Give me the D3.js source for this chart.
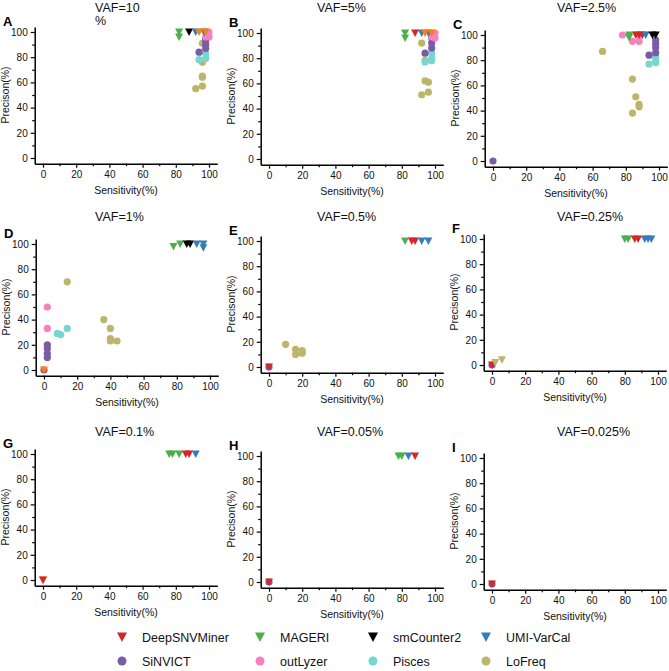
<!DOCTYPE html>
<html><head><meta charset="utf-8">
<script src="https://cdn.jsdelivr.net/npm/d3@7"></script>
<style>
body{margin:0;background:#fff;}
svg{display:block;font-family:"Liberation Sans",Arial,sans-serif;}
</style></head>
<body>
<svg id="c" width="669" height="671"></svg>
<script>
// ---- data ----
const seriesNames = ["DeepSNVMiner","MAGERI","smCounter2","UMI-VarCal","SiNVICT","outLyzer","Pisces","LoFreq"];
const seriesColors = ["#d62728","#4daf4a","#000000","#377eb8","#7b5aa6","#f781bf","#76d7d0","#bdb56b"];
const seriesShapes = ["tri","tri","tri","tri","dot","dot","dot","dot"];
// extra marks present in the panels but not in the legend
const extraNames = ["Orange","LoFreqTri"];
const extraColors = ["#ff7f0e","#bdb56b"];
const extraShapes = ["tri","tri"];

const panelTitles = ["VAF=10\n%","VAF=5%","VAF=2.5%","VAF=1%","VAF=0.5%","VAF=0.25%","VAF=0.1%","VAF=0.05%","VAF=0.025%"];
const panelLetters = ["A","B","C","D","E","F","G","H","I"];
const xTicks = [0,20,40,60,80,100];
const yTicks = [0,20,40,60,80,100];

// [series, sensitivity %, precision %]
const dataA = [
  ["LoFreq",96,91],["LoFreq",96,76],["LoFreq",96,65],["LoFreq",96,64],["LoFreq",96,57],["LoFreq",92,55],
  ["Pisces",94,78],["Pisces",98,79],["Pisces",98,83],
  ["SiNVICT",94,84],["SiNVICT",98,87],["SiNVICT",98,90],["SiNVICT",98,93],["SiNVICT",98,95],
  ["outLyzer",98,96],["outLyzer",100,96],["outLyzer",99,98],["outLyzer",100,100],["outLyzer",98,100],
  ["MAGERI",82,100],["MAGERI",82,96],["smCounter2",88,100],
  ["UMI-VarCal",92,100],["UMI-VarCal",97,100],["Orange",94,100],["Orange",98,100]
];
const dataB = [
  ["LoFreq",92,92],["LoFreq",94,62],["LoFreq",96,61],["LoFreq",96,53],["LoFreq",92,51],["LoFreq",94,78],
  ["Pisces",94,77],["Pisces",98,78],["Pisces",98,80],["Pisces",98,84],
  ["SiNVICT",94,84],["SiNVICT",98,88],["SiNVICT",98,92],["SiNVICT",98,96],
  ["outLyzer",98,97],["outLyzer",100,96],["outLyzer",99,98],["outLyzer",100,100],
  ["MAGERI",82,100],["MAGERI",82,96],["DeepSNVMiner",88,100],
  ["UMI-VarCal",92,100],["UMI-VarCal",96,100],["Orange",94,100],["Orange",98,100]
];
const dataC = [
  ["LoFreq",66,87],["LoFreq",84,65],["LoFreq",86,51],["LoFreq",88,45],["LoFreq",88,43],["LoFreq",84,38],
  ["Pisces",94,77],["Pisces",98,78],["Pisces",98,80],["Pisces",98,83],
  ["SiNVICT",0,0],["SiNVICT",94,84],["SiNVICT",98,86],["SiNVICT",98,90],["SiNVICT",98,93],["SiNVICT",98,96],
  ["outLyzer",78,100],["outLyzer",84,95],["outLyzer",88,95],["outLyzer",88,100],
  ["MAGERI",82,100],["MAGERI",82,98],
  ["DeepSNVMiner",86,100],["DeepSNVMiner",88,100],["DeepSNVMiner",90,100],
  ["UMI-VarCal",92,100],["smCounter2",96,100],["smCounter2",98,100]
];
const dataD = [
  ["LoFreq",14,70],["LoFreq",36,40],["LoFreq",40,33],["LoFreq",40,25],["LoFreq",40,23],["LoFreq",44,23],
  ["Pisces",8,29],["Pisces",10,28],["Pisces",14,33],
  ["outLyzer",2,50],["outLyzer",2,33],
  ["SiNVICT",0,0],["SiNVICT",2,20],["SiNVICT",2,17],["SiNVICT",2,13],["SiNVICT",2,10],
  ["Orange",0,0],
  ["MAGERI",78,98],["MAGERI",82,100],["smCounter2",86,100],["smCounter2",88,100],
  ["UMI-VarCal",92,100],["UMI-VarCal",96,100],["UMI-VarCal",96,97]
];
const dataE = [
  ["LoFreq",10,18],["LoFreq",16,14],["LoFreq",16,10],["LoFreq",20,13],["LoFreq",20,11],
  ["SiNVICT",0,0],["DeepSNVMiner",0,0],
  ["MAGERI",82,100],["DeepSNVMiner",86,100],["DeepSNVMiner",88,100],
  ["UMI-VarCal",92,100],["UMI-VarCal",96,100]
];
const dataF = [
  ["SiNVICT",0,0],["DeepSNVMiner",0,0],["LoFreqTri",2,2],["LoFreqTri",6,4],
  ["MAGERI",80,100],["MAGERI",82,100],["DeepSNVMiner",86,100],["DeepSNVMiner",88,100],
  ["UMI-VarCal",92,100],["UMI-VarCal",94,100],["UMI-VarCal",96,100]
];
const dataG = [
  ["Orange",0,0],["DeepSNVMiner",0,0],
  ["MAGERI",76,100],["MAGERI",78,100],["MAGERI",82,100],
  ["DeepSNVMiner",86,100],["DeepSNVMiner",88,100],["UMI-VarCal",92,100]
];
const dataH = [
  ["SiNVICT",0,0],["DeepSNVMiner",0,0],
  ["MAGERI",78,100],["MAGERI",80,100],["UMI-VarCal",84,100],["DeepSNVMiner",88,100]
];
const dataI = [
  ["SiNVICT",0,0],["DeepSNVMiner",0,0]
];
const panelData = [dataA,dataB,dataC,dataD,dataE,dataF,dataG,dataH,dataI];

// ---- layout ----
const layout = [ // [x of 0, y of 100]
  [43,32],[269,33],[493,35],
  [44,244],[269,241],[492,239],
  [43,454],[269,456],[492,458]
];
const titleX = [95,317,557];
const titleY = [12,221,436];
const KX = 1.66, KY = 1.26;

const allNames = seriesNames.concat(extraNames);
const allColors = seriesColors.concat(extraColors);
const allShapes = seriesShapes.concat(extraShapes);
const color = d3.scaleOrdinal().domain(allNames).range(allColors);
const shape = d3.scaleOrdinal().domain(allNames).range(allShapes);

const svg = d3.select("#c");
const triPath = (s)=>`M${-s/2},${-s*0.45}L${s/2},${-s*0.45}L0,${s*0.5}Z`;

panelData.forEach((data,i)=>{
  const [x0,y100] = layout[i];
  const y0 = y100 + 100*KY;
  const x = d3.scaleLinear().domain([-5,105]).range([x0-5*KX, x0+105*KX]);
  const y = d3.scaleLinear().domain([-4.5,104]).range([y0+4.5*KY, y100-4*KY]);
  const g = svg.append("g");
  const col = i%3, row = Math.floor(i/3);

  // axes
  g.append("g").attr("transform",`translate(0,${y(-4.5)})`)
    .call(d3.axisBottom(x).tickValues(xTicks).tickSize(4).tickSizeOuter(0).tickPadding(3));
  g.append("g").attr("transform",`translate(0,${y(-4.5)})`)
    .call(d3.axisBottom(x).tickValues([10,30,50,70,90]).tickSize(2.5).tickSizeOuter(0).tickFormat(""))
    .select(".domain").remove();
  g.append("g").attr("transform",`translate(${x(-5)},0)`)
    .call(d3.axisLeft(y).tickValues(yTicks).tickSize(4).tickSizeOuter(0).tickPadding(3));
  g.append("g").attr("transform",`translate(${x(-5)},0)`)
    .call(d3.axisLeft(y).tickValues([10,30,50,70,90]).tickSize(2.5).tickSizeOuter(0).tickFormat(""))
    .select(".domain").remove();
  g.selectAll(".domain").attr("stroke","#000").attr("stroke-width",1.5);
  g.selectAll(".tick line").attr("stroke","#000").attr("stroke-width",1.2);
  g.selectAll(".tick text").attr("font-size",10).attr("fill","#111")
    .attr("font-family","'Liberation Sans',Arial,sans-serif");

  // labels
  g.append("text").attr("x",x0+50*KX).attr("y",y0+36).attr("text-anchor","middle")
    .attr("font-size",10.5).attr("fill","#111").text("Sensitivity(%)");
  g.append("text").attr("transform",`translate(${x0-34},${(y0+y100)/2}) rotate(-90)`)
    .attr("text-anchor","middle").attr("font-size",10.5).attr("fill","#111").text("Precison(%)");

  // title
  const lines = panelTitles[i].split("\n");
  lines.forEach((ln,k)=>{
    g.append("text").attr("x",titleX[col]).attr("y",titleY[row]+k*13)
      .attr("font-size",12.5).attr("fill","#111").text(ln);
  });
  g.append("text").attr("x",x0-40).attr("y",y100-6).attr("font-size",13)
    .attr("font-weight","bold").attr("fill","#000").text(panelLetters[i]);

  // points: circles first, triangles on top
  const dots = data.filter(d=>shape(d[0])==="dot");
  const tris = data.filter(d=>shape(d[0])==="tri");
  g.selectAll("circle.pt").data(dots).join("circle").attr("class","pt")
    .attr("cx",d=>x(d[1])).attr("cy",d=>y(d[2])).attr("r",3.6)
    .attr("fill",d=>color(d[0]));
  g.selectAll("path.pt").data(tris).join("path").attr("class","pt")
    .attr("transform",d=>`translate(${x(d[1])},${y(d[2])})`)
    .attr("d",triPath(8)).attr("fill",d=>color(d[0]));
});

// ---- legend ----
const legX = [122,260,373,486];
const legY = [637,661];
seriesNames.forEach((n,i)=>{
  const r = Math.floor(i/4), c = i%4;
  const g = svg.append("g").attr("transform",`translate(${legX[c]},${legY[r]})`);
  if(seriesShapes[i]==="tri") g.append("path").attr("d",triPath(10)).attr("fill",seriesColors[i]);
  else g.append("circle").attr("r",4.5).attr("fill",seriesColors[i]);
  g.append("text").attr("x",20).attr("y",4.5).attr("font-size",12.5).attr("fill","#111").text(n);
});
</script>
</body></html>
